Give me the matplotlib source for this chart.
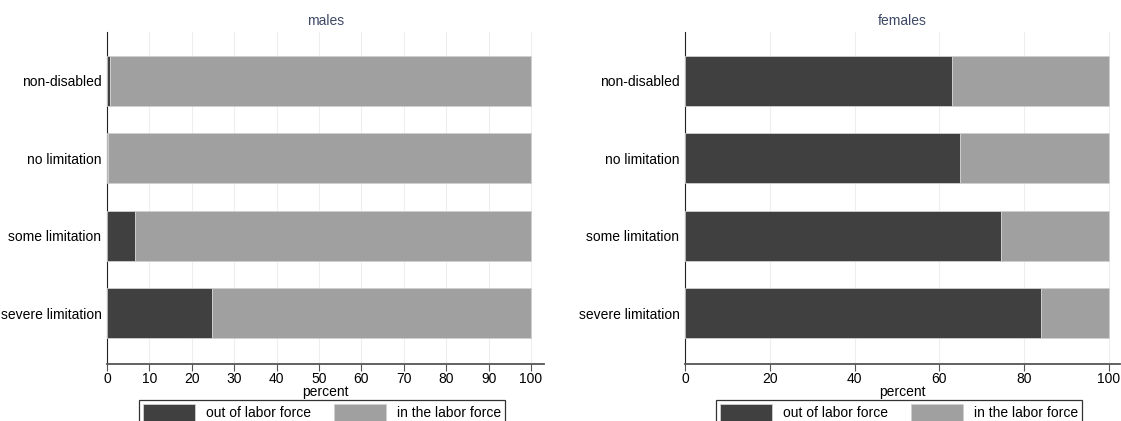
import matplotlib
matplotlib.use("Agg")
import matplotlib.pyplot as plt
import numpy as np

plt.rcParams['font.family'] = ['Liberation Sans', 'DejaVu Sans']

categories = ["non-disabled", "no limitation", "some limitation", "severe limitation"]
males_out = [0.6, 0.3, 6.7, 24.8]
females_out = [62.9, 65.0, 74.6, 83.9]
males_in = [100 - v for v in males_out]
females_in = [100 - v for v in females_out]

panels = [
    ("males", males_out, males_in, list(range(0, 101, 10)), 103.0),
    ("females", females_out, females_in, list(range(0, 101, 20)), 102.6),
]

DARK = "#404040"
LIGHT = "#a0a0a0"
FS = 10.0

fig = plt.figure(figsize=(11.21, 4.21), dpi=100)
positions = [[0.0955, 0.1364, 0.3895, 0.788], [0.611, 0.1364, 0.388, 0.788]]

for pos, (title, out_vals, in_vals, xticks, xmax) in zip(positions, panels):
    ax = fig.add_axes(pos)
    y = np.arange(len(categories))
    ax.barh(y, out_vals, height=0.645, color=DARK, edgecolor="#d0d0d0",
            linewidth=0.6, label="out of labor force", zorder=3)
    ax.barh(y, in_vals, left=out_vals, height=0.645, color=LIGHT,
            edgecolor="#d0d0d0", linewidth=0.6, label="in the labor force", zorder=3)
    ax.set_ylim(3.65, -0.63)
    ax.set_xlim(0, xmax)
    ax.set_yticks(y)
    ax.set_yticklabels(categories, fontsize=FS)
    ax.tick_params(axis="y", length=0, pad=4)
    ax.set_xticks(xticks)
    ax.tick_params(axis="x", labelsize=FS, length=5, color="#555555", pad=1)
    ax.grid(axis="x", color="#eeeeee", linewidth=0.8, zorder=0)
    for s in ["top", "right"]:
        ax.spines[s].set_visible(False)
    ax.spines["left"].set_color("#222222")
    ax.spines["bottom"].set_color("#555555")
    ax.spines["bottom"].set_linewidth(1.3)
    ax.set_xlabel("percent", fontsize=FS, labelpad=-1)
    ax.set_title(title, fontsize=FS, color="#3d4966", pad=5)

    cx = pos[0] + pos[2] / 2 - 0.003
    leg = fig.legend(*ax.get_legend_handles_labels(), loc="upper center",
                     bbox_to_anchor=(cx, 0.05), ncol=2, fontsize=FS,
                     frameon=True, fancybox=False, handlelength=3.7,
                     handleheight=1.5, handletextpad=0.8, columnspacing=1.7,
                     borderpad=0.3, borderaxespad=0)
    leg.get_frame().set_edgecolor("black")
    leg.get_frame().set_linewidth(0.9)

fig.savefig("out.png", dpi=100)
